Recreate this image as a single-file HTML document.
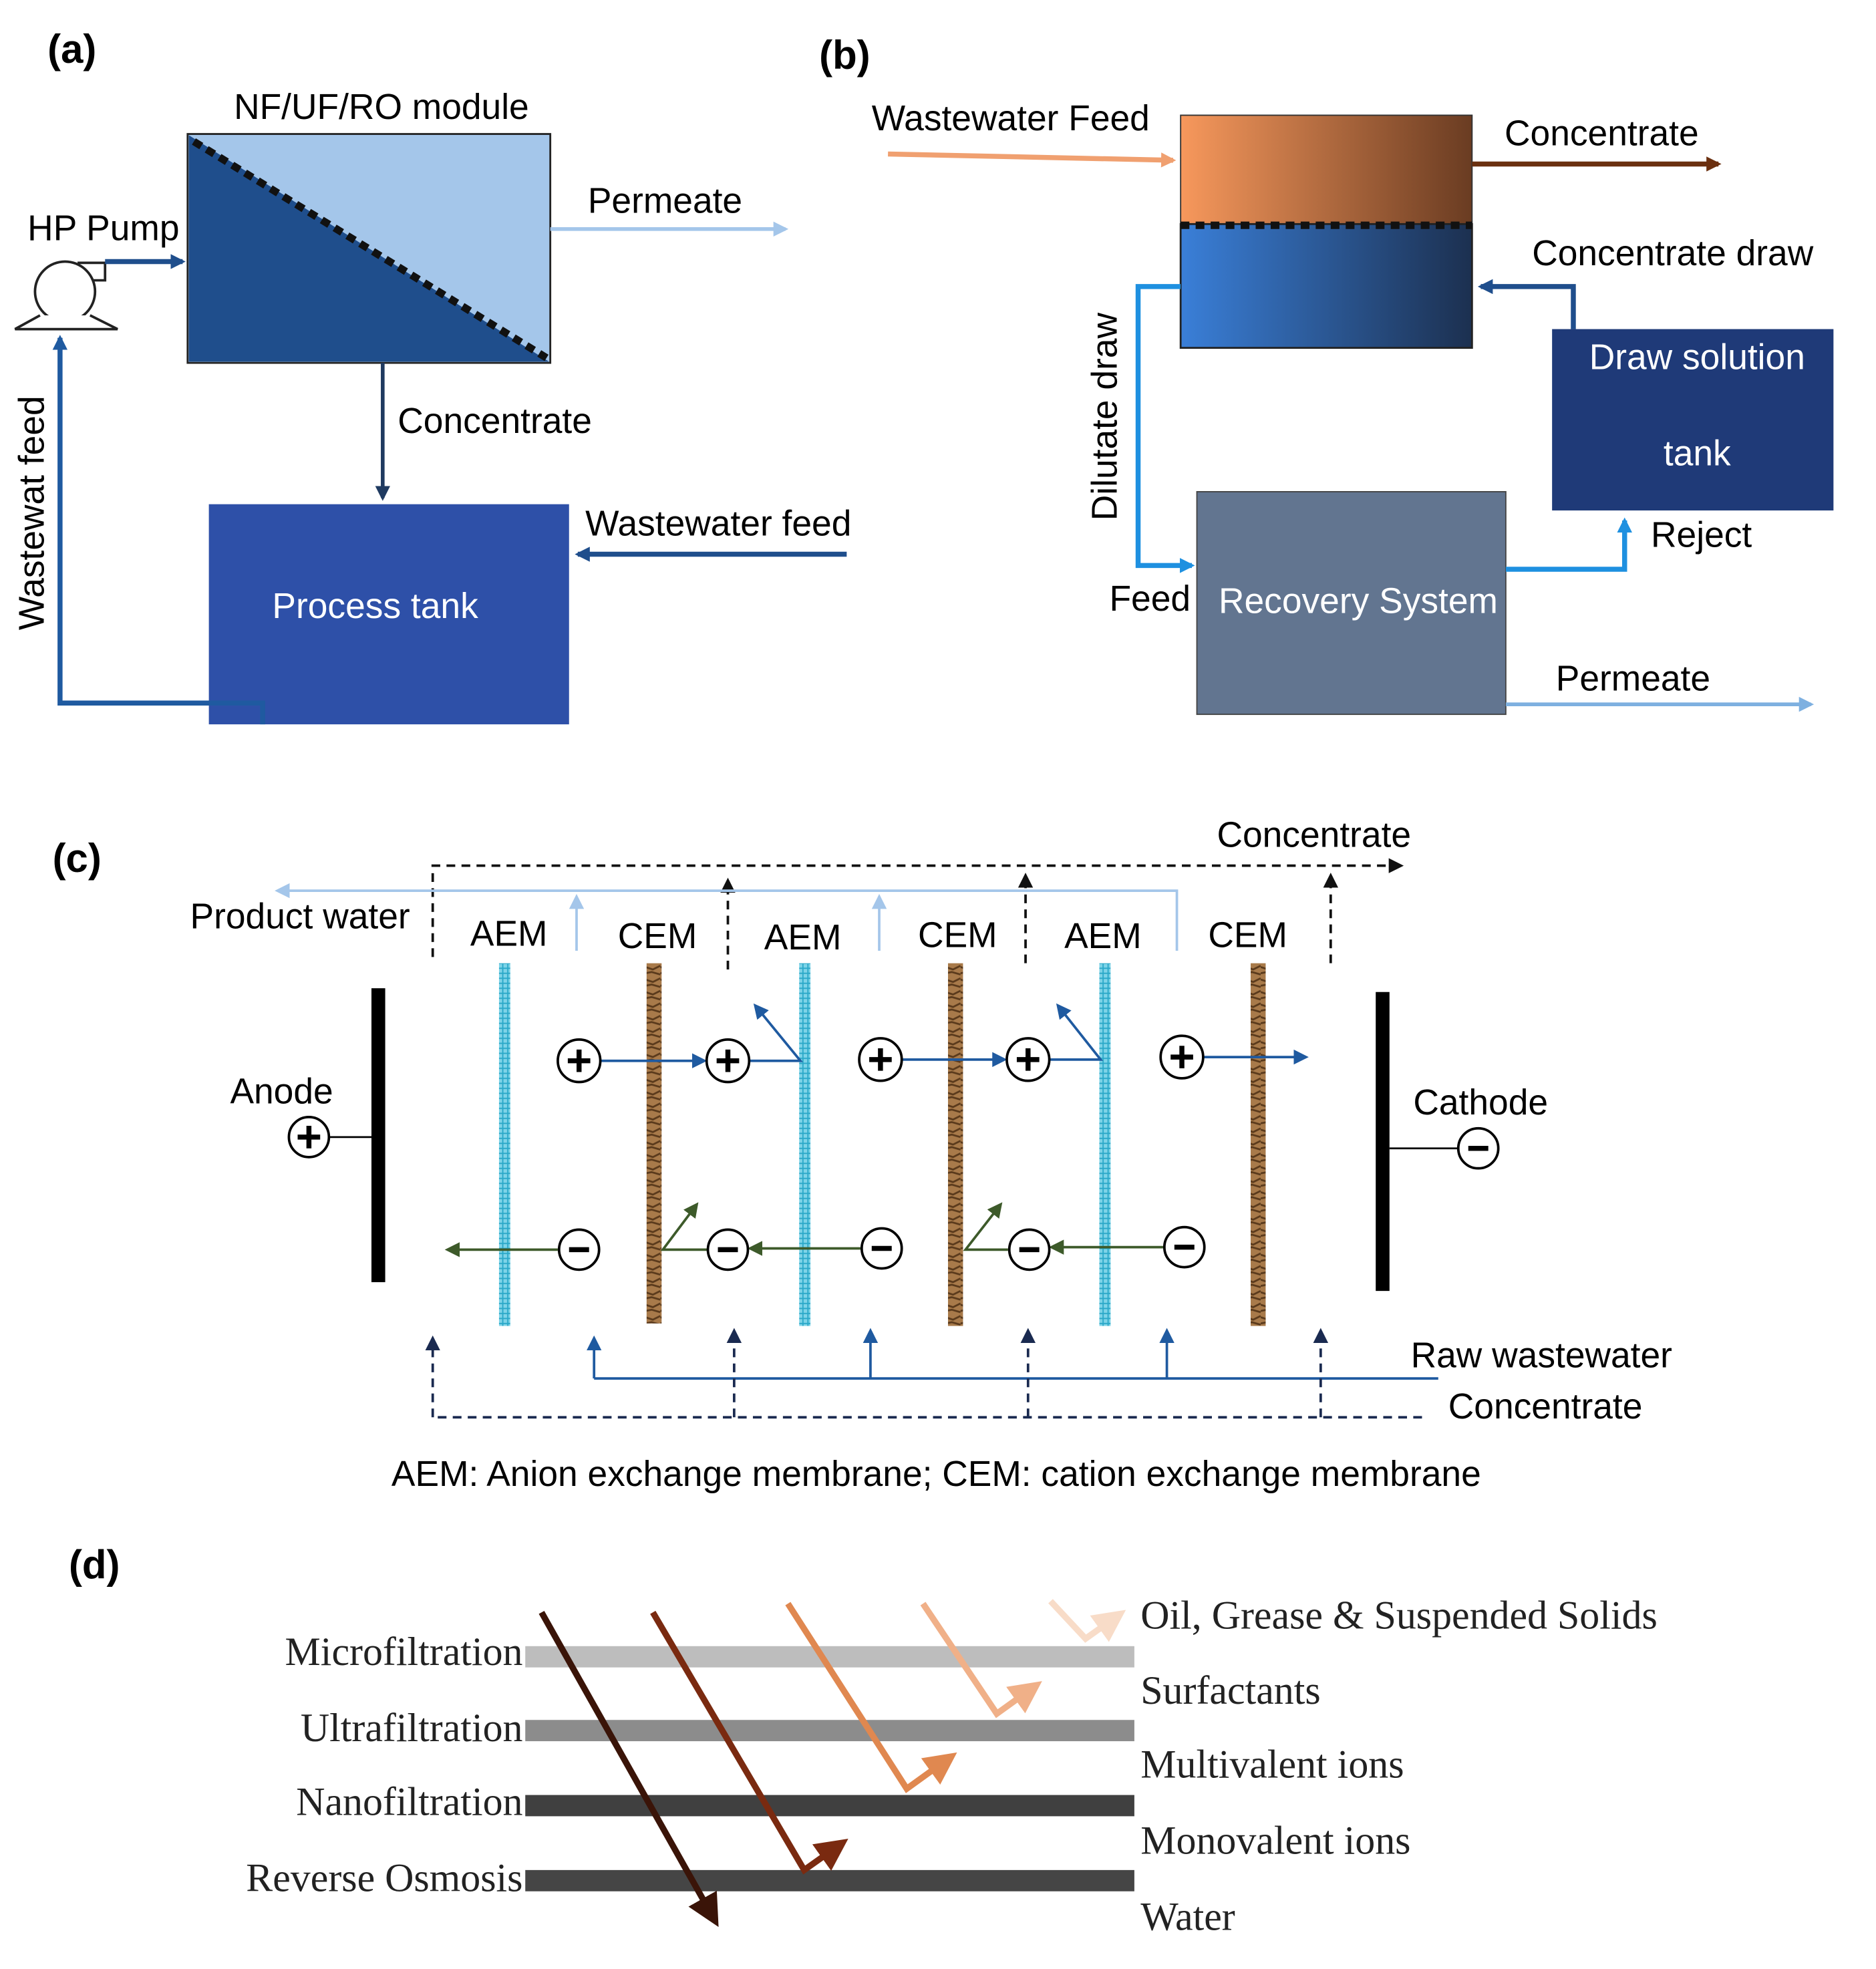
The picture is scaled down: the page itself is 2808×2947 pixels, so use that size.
<!DOCTYPE html>
<html><head><meta charset="utf-8"><style>
html,body{margin:0;padding:0;background:#fff}
svg{display:block}
text{font-family:"Liberation Sans",sans-serif}
.s{font-family:"Liberation Serif",serif;font-size:32px;fill:#222}
</style></head><body>
<svg width="2808" height="2947" viewBox="0 0 1500 1574" xmlns="http://www.w3.org/2000/svg">
<defs>
<marker id="a" viewBox="0 0 10 10" markerWidth="26" markerHeight="26" refX="8" refY="5" orient="auto" markerUnits="userSpaceOnUse"><path d="M0,0 L10,5 L0,10 z" fill="context-stroke"/></marker>
<marker id="as" viewBox="0 0 10 10" markerWidth="12" markerHeight="12" refX="8" refY="5" orient="auto" markerUnits="userSpaceOnUse"><path d="M0,0 L10,5 L0,10 z" fill="context-stroke"/></marker>
<linearGradient id="go" x1="0" x2="1"><stop offset="0" stop-color="#f7985c"/><stop offset="1" stop-color="#6a3c22"/></linearGradient>
<linearGradient id="gb" x1="0" x2="1"><stop offset="0" stop-color="#3a7fd8"/><stop offset="1" stop-color="#1c3050"/></linearGradient>
<pattern id="hc" width="4" height="4" patternUnits="userSpaceOnUse"><rect width="4" height="4" fill="#7fd4e8"/><path d="M0,2h4M2,0v4" stroke="#2aa8c8" stroke-width="1"/></pattern>
<pattern id="hb" width="12" height="10" patternUnits="userSpaceOnUse"><rect width="12" height="10" fill="#a87a4a"/><path d="M0,3 L6,5 L12,2 M0,8 L5,7 L12,9" stroke="#5a3a1c" stroke-width="1.5" fill="none"/></pattern>
</defs>

<!-- (a) -->
<text x="38" y="50" font-size="32" font-weight="bold">(a)</text>
<text x="187" y="95" font-size="28.5">NF/UF/RO module</text>
<rect x="150" y="107" width="290" height="183" fill="#a4c6ea" stroke="#222" stroke-width="1.5"/>
<polygon points="151,108 151,289 439,289" fill="#1f4e8c"/>
<line x1="155" y1="113" x2="437" y2="286" stroke="#111" stroke-width="6" stroke-dasharray="7,5"/>
<text x="470" y="170" font-size="28.5">Permeate</text>
<line x1="440" y1="183" x2="628" y2="183" stroke="#a4c6ea" stroke-width="3" marker-end="url(#as)"/>
<text x="22" y="192" font-size="28.5">HP Pump</text>
<circle cx="52" cy="233" r="24" fill="#fff" stroke="#222" stroke-width="2"/>
<path d="M62,210 h22 v14 h-10" fill="none" stroke="#222" stroke-width="2"/>
<path d="M32,252 L12,263 H94 L72,252" fill="#fff" stroke="#222" stroke-width="2"/>
<line x1="84" y1="209" x2="146" y2="209" stroke="#1f4e8c" stroke-width="4" marker-end="url(#as)"/>
<line x1="306" y1="290" x2="306" y2="398" stroke="#1f3a60" stroke-width="3" marker-end="url(#as)"/>
<text x="318" y="346" font-size="28.5">Concentrate</text>
<rect x="167" y="403" width="288" height="176" fill="#2e50a8"/>
<text x="300" y="494" font-size="28.5" fill="#fff" text-anchor="middle">Process tank</text>
<text x="468" y="428" font-size="28.5">Wastewater feed</text>
<line x1="677" y1="443" x2="462" y2="443" stroke="#1f4e8c" stroke-width="4" marker-end="url(#as)"/>
<text transform="translate(35,410) rotate(-90)" font-size="28.5" text-anchor="middle">Wastewat feed</text>
<polyline points="210,579 210,562 48,562 48,270" fill="none" stroke="#1f5aa0" stroke-width="4" marker-end="url(#as)"/>

<!-- (b) -->
<text x="655" y="55" font-size="32" font-weight="bold">(b)</text>
<text x="697" y="104" font-size="28.5">Wastewater Feed</text>
<line x1="710" y1="123" x2="938" y2="128" stroke="#f0a070" stroke-width="4" marker-end="url(#as)"/>
<rect x="944" y="92" width="233" height="87" fill="url(#go)" stroke="#333" stroke-width="1"/>
<rect x="944" y="179" width="233" height="99" fill="url(#gb)" stroke="#222" stroke-width="1.5"/>
<line x1="944" y1="180" x2="1177" y2="180" stroke="#111" stroke-width="6" stroke-dasharray="7,5"/>
<text x="1203" y="116" font-size="28.5">Concentrate</text>
<line x1="1177" y1="131" x2="1374" y2="131" stroke="#6b3010" stroke-width="4" marker-end="url(#as)"/>
<text x="1225" y="212" font-size="28.5">Concentrate draw</text>
<rect x="1241" y="263" width="225" height="145" fill="#1f3a78"/>
<text x="1357" y="295" font-size="28.5" fill="#fff" text-anchor="middle">Draw solution</text>
<text x="1357" y="372" font-size="28.5" fill="#fff" text-anchor="middle">tank</text>
<polyline points="1258,263 1258,229 1184,229" fill="none" stroke="#1f4e8c" stroke-width="4" marker-end="url(#as)"/>
<polyline points="944,229 910,229 910,452 953,452" fill="none" stroke="#1e90e0" stroke-width="4" marker-end="url(#as)"/>
<text transform="translate(893,333) rotate(-90)" font-size="28.5" text-anchor="middle">Dilutate draw</text>
<rect x="957" y="393" width="247" height="178" fill="#627590" stroke="#444" stroke-width="1"/>
<text x="1086" y="490" font-size="28.5" fill="#fff" text-anchor="middle">Recovery System</text>
<text x="887" y="488" font-size="28.5">Feed</text>
<polyline points="1204,455 1299,455 1299,416" fill="none" stroke="#1e90e0" stroke-width="4" marker-end="url(#as)"/>
<text x="1320" y="437" font-size="28.5">Reject</text>
<text x="1244" y="552" font-size="28.5">Permeate</text>
<line x1="1204" y1="563" x2="1448" y2="563" stroke="#7eb0e0" stroke-width="3" marker-end="url(#as)"/>

<!-- (c) -->
<text x="42" y="697" font-size="32" font-weight="bold">(c)</text>
<text x="973" y="677" font-size="28.5">Concentrate</text>
<g stroke="#111" stroke-width="2" stroke-dasharray="7,5" fill="none">
<polyline points="346,765 346,692 1120,692" marker-end="url(#as)"/>
<line x1="582" y1="775" x2="582" y2="704" marker-end="url(#as)"/>
<line x1="820" y1="770" x2="820" y2="700" marker-end="url(#as)"/>
<line x1="1064" y1="770" x2="1064" y2="700" marker-end="url(#as)"/>
</g>
<text x="152" y="742" font-size="28.5">Product water</text>
<g stroke="#a4c6ea" stroke-width="2" fill="none">
<polyline points="941,760 941,712 222,712" marker-end="url(#as)"/>
<line x1="461" y1="760" x2="461" y2="717" marker-end="url(#as)"/>
<line x1="703" y1="760" x2="703" y2="717" marker-end="url(#as)"/>
</g>
<g font-size="28.5">
<text x="376" y="756">AEM</text><text x="494" y="758">CEM</text>
<text x="611" y="759">AEM</text><text x="734" y="757">CEM</text>
<text x="851" y="758">AEM</text><text x="966" y="757">CEM</text>
</g>
<rect x="399" y="770" width="9" height="290" fill="url(#hc)"/>
<rect x="639" y="770" width="9" height="290" fill="url(#hc)"/>
<rect x="879" y="770" width="9" height="290" fill="url(#hc)"/>
<rect x="517" y="770" width="12" height="288" fill="url(#hb)"/>
<rect x="758" y="770" width="12" height="290" fill="url(#hb)"/>
<rect x="1000" y="770" width="12" height="290" fill="url(#hb)"/>
<rect x="297" y="790" width="11" height="235" fill="#000"/>
<rect x="1100" y="793" width="11" height="239" fill="#000"/>
<text x="184" y="882" font-size="28.5">Anode</text>
<line x1="263" y1="909" x2="297" y2="909" stroke="#000" stroke-width="1.5"/>
<text x="1130" y="891" font-size="28.5">Cathode</text>
<line x1="1111" y1="918" x2="1166" y2="918" stroke="#000" stroke-width="1.5"/>
<g stroke="#1f5aa0" stroke-width="2" fill="none">
<line x1="480" y1="848" x2="563" y2="848" marker-end="url(#as)"/>
<polyline points="599,848 640,848 604,804" marker-end="url(#as)"/>
<line x1="721" y1="847" x2="803" y2="847" marker-end="url(#as)"/>
<polyline points="839,847 880,847 846,804" marker-end="url(#as)"/>
<line x1="962" y1="845" x2="1044" y2="845" marker-end="url(#as)"/>
</g>
<g stroke="#3d5a2a" stroke-width="2" fill="none">
<line x1="446" y1="999" x2="358" y2="999" marker-end="url(#as)"/>
<polyline points="566,999 530,999 557,963" marker-end="url(#as)"/>
<line x1="688" y1="998" x2="600" y2="998" marker-end="url(#as)"/>
<polyline points="806,999 772,999 800,963" marker-end="url(#as)"/>
<line x1="930" y1="997" x2="841" y2="997" marker-end="url(#as)"/>
</g>
<g stroke="#000" stroke-width="2" fill="#fff">
<circle cx="247" cy="909" r="16"/>
<circle cx="463" cy="848" r="17"/><circle cx="582" cy="848" r="17"/><circle cx="704" cy="847" r="17"/><circle cx="822" cy="847" r="17"/><circle cx="945" cy="845" r="17"/>
<circle cx="1182" cy="918" r="16"/>
<circle cx="463" cy="999" r="16"/><circle cx="582" cy="999" r="16"/><circle cx="705" cy="998" r="16"/><circle cx="823" cy="999" r="16"/><circle cx="947" cy="997" r="16"/>
</g>
<g stroke="#000" stroke-width="4">
<path d="M238,909h18M247,900v18"/>
<path d="M454,848h18M463,839v18M573,848h18M582,839v18M695,847h18M704,838v18M813,847h18M822,838v18M936,845h18M945,836v18"/>
<path d="M1174,918h16M455,999h16M574,999h16M697,998h16M815,999h16M939,997h16"/>
</g>
<text x="1128" y="1093" font-size="28.5">Raw wastewater</text>
<g stroke="#1f5aa0" stroke-width="2" fill="none">
<line x1="1150" y1="1102" x2="475" y2="1102"/>
<line x1="475" y1="1102" x2="475" y2="1070" marker-end="url(#as)"/>
<line x1="696" y1="1102" x2="696" y2="1064" marker-end="url(#as)"/>
<line x1="933" y1="1102" x2="933" y2="1064" marker-end="url(#as)"/>
</g>
<g stroke="#1a2a50" stroke-width="2" stroke-dasharray="7,5" fill="none">
<line x1="1137" y1="1133" x2="346" y2="1133"/>
<line x1="346" y1="1133" x2="346" y2="1070" marker-end="url(#as)"/>
<line x1="587" y1="1133" x2="587" y2="1064" marker-end="url(#as)"/>
<line x1="822" y1="1133" x2="822" y2="1064" marker-end="url(#as)"/>
<line x1="1056" y1="1133" x2="1056" y2="1064" marker-end="url(#as)"/>
</g>
<text x="1158" y="1134" font-size="28.5">Concentrate</text>
<text x="313" y="1188" font-size="28.5">AEM: Anion exchange membrane; CEM: cation exchange membrane</text>

<!-- (d) -->
<text x="55" y="1262" font-size="32" font-weight="bold">(d)</text>
<rect x="420" y="1316" width="487" height="17" fill="#bdbdbd"/>
<rect x="420" y="1375" width="487" height="17" fill="#8c8c8c"/>
<rect x="420" y="1435" width="487" height="17" fill="#404040"/>
<rect x="420" y="1495" width="487" height="17" fill="#454545"/>
<text class="s" x="418" y="1331" text-anchor="end">Microfiltration</text>
<text class="s" x="418" y="1392" text-anchor="end">Ultrafiltration</text>
<text class="s" x="418" y="1451" text-anchor="end">Nanofiltration</text>
<text class="s" x="418" y="1512" text-anchor="end">Reverse Osmosis</text>
<text class="s" x="912" y="1302">Oil, Grease &amp; Suspended Solids</text>
<text class="s" x="912" y="1362">Surfactants</text>
<text class="s" x="912" y="1421">Multivalent ions</text>
<text class="s" x="912" y="1482">Monovalent ions</text>
<text class="s" x="912" y="1543">Water</text>
<g fill="none" stroke-width="5">
<line x1="433" y1="1289" x2="572" y2="1536" stroke="#3a1408" marker-end="url(#a)"/>
<polyline points="522,1289 643,1495 674,1473" stroke="#7a2a10" marker-end="url(#a)"/>
<polyline points="630,1282 725,1430 761,1404" stroke="#e08850" marker-end="url(#a)"/>
<polyline points="738,1282 797,1370 829,1347" stroke="#f0b088" marker-end="url(#a)"/>
<polyline points="840,1280 868,1310 896,1290" stroke="#f8dcc8" marker-end="url(#a)"/>
</g>
</svg>
</body></html>
